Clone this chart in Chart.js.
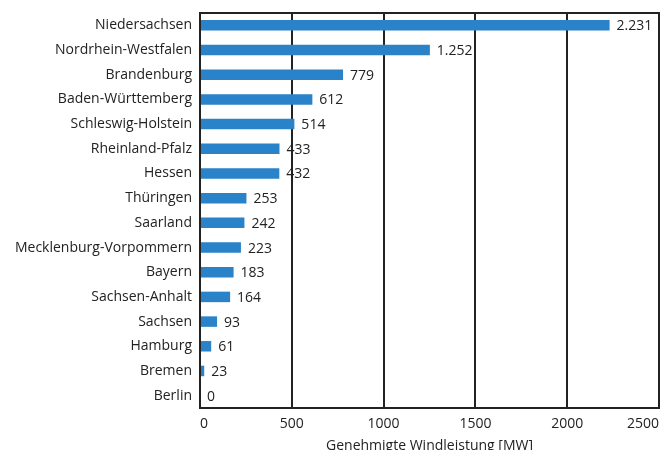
<!DOCTYPE html>
<html>
<head>
<meta charset="utf-8">
<script src="https://cdn.jsdelivr.net/npm/chart.js@4"></script>
<style>
  html, body { margin: 0; padding: 0; background: #fff; overflow: hidden; }
</style>
</head>
<body>
<canvas id="wind" width="661" height="454"></canvas>
<script>
const states = ['Niedersachsen', 'Nordrhein-Westfalen', 'Brandenburg', 'Baden-Württemberg',
    'Schleswig-Holstein', 'Rheinland-Pfalz', 'Hessen', 'Thüringen', 'Saarland',
    'Mecklenburg-Vorpommern', 'Bayern', 'Sachsen-Anhalt', 'Sachsen', 'Hamburg', 'Bremen', 'Berlin'];
const powerMW = [2231, 1252, 779, 612, 514, 433, 432, 253, 242, 223, 183, 164, 93, 61, 23, 0];
const xTicks = [0, 500, 1000, 1500, 2000, 2500];

const FONT = '"Open Sans", "Noto Sans", sans-serif';

// 2231 -> "2.231"
function deNumber(v) {
    return String(v).replace(/\B(?=(\d{3})+(?!\d))/g, '.');
}

const valueLabels = {
    id: 'valueLabels',
    afterDatasetsDraw(chart) {
        const c = chart.ctx;
        const meta = chart.getDatasetMeta(0);
        c.save();
        c.font = '14px ' + FONT;
        c.fillStyle = '#222';
        c.textAlign = 'left';
        c.textBaseline = 'middle';
        meta.data.forEach((bar, i) => {
            c.fillText(deNumber(powerMW[i]), bar.x + 7, bar.y + 1);
        });
        c.restore();
    }
};

const topBorder = {
    id: 'topBorder',
    afterDraw(chart) {
        const a = chart.chartArea;
        const c = chart.ctx;
        c.save();
        c.strokeStyle = '#222';
        c.lineWidth = 2;
        c.beginPath();
        c.moveTo(a.left - 1, a.top);
        c.lineTo(a.right + 1, a.top);
        c.stroke();
        c.restore();
    }
};

new Chart(document.getElementById('wind').getContext('2d'), {
    type: 'bar',
    data: {
        labels: states,
        datasets: [{
            data: powerMW,
            backgroundColor: '#2a83c8',
            barPercentage: 0.85,
            categoryPercentage: 0.5
        }]
    },
    options: {
        indexAxis: 'y',
        responsive: false,
        animation: false,
        layout: { padding: { top: 13, right: 2, left: 0, bottom: 0 } },
        plugins: {
            legend: { display: false },
            tooltip: { enabled: false }
        },
        scales: {
            x: {
                min: 0,
                max: 2500,
                afterBuildTicks(axis) {
                    axis.ticks = xTicks.map(v => ({ value: v }));
                },
                afterFit(axis) {
                    axis.height = 46;
                    axis.paddingLeft = 0;
                    axis.paddingRight = 0;
                },
                ticks: {
                    align: 'inner',
                    padding: 8,
                    color: '#222',
                    font: { family: FONT, size: 14 },
                    callback: v => String(v)
                },
                grid: { color: '#222', lineWidth: 2, drawTicks: false },
                border: { display: true, color: '#222', width: 2 },
                title: {
                    display: true,
                    text: 'Genehmigte Windleistung [MW]',
                    color: '#222',
                    font: { family: FONT, size: 14 },
                    padding: { top: 0, bottom: 0 }
                }
            },
            y: {
                afterFit(axis) {
                    axis.width = 200;
                    axis.paddingTop = 0;
                    axis.paddingBottom = 0;
                },
                ticks: {
                    padding: 0,
                    color: '#222',
                    font: { family: FONT, size: 14 }
                },
                grid: { display: false },
                border: { display: true, color: '#222', width: 2 }
            }
        }
    },
    plugins: [valueLabels, topBorder]
});
</script>
</body>
</html>
